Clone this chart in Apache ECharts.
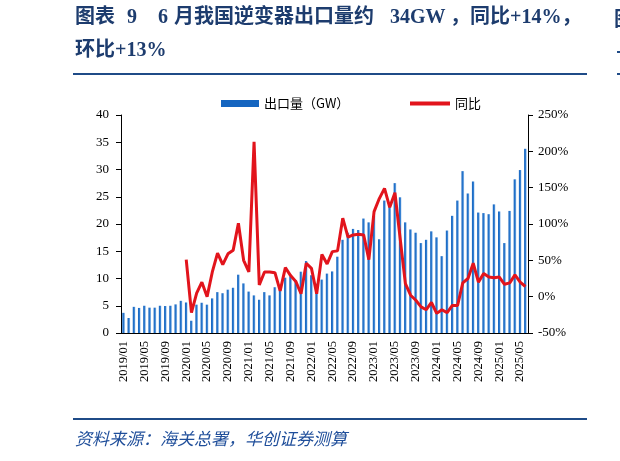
<!DOCTYPE html>
<html lang="zh">

<head>
    <meta charset="UTF-8">
    <title>逆变器出口量</title>
    <script src="https://cdn.jsdelivr.net/npm/echarts@6/dist/echarts.min.js"></script>
    <style>
        body,
        html {
            margin: 0;
            padding: 0;
            background: #fff;
        }

        #main {
            width: 620px;
            height: 461px;
        }
    </style>
</head>

<body>
    <div id="main"></div>
    <script>
        // 月份 2019/01 - 2025/06
        var months = [];
        for (var y = 2019; y <= 2025; y++) {
            for (var m = 1; m <= 12; m++) {
                if (y == 2025 && m > 6) break;
                months.push(y + '/' + (m < 10 ? '0' + m : m));
            }
        }

        // 出口量 (GW)
        var exportVol = [
            3.7, 2.75, 4.8, 4.6, 5.0, 4.65, 4.65, 5.0, 4.95, 5.0, 5.25, 5.9,
            5.6, 2.25, 5.2, 5.55, 5.2, 6.35, 7.5, 7.3, 7.95, 8.3, 10.7, 9.1,
            7.6, 6.9, 6.1, 7.5, 6.9, 8.4, 7.95, 10.15, 10.4, 9.7, 11.25, 13.2,
            10.6, 9.05, 9.8, 10.9, 11.3, 14.0, 17.1, 18.4, 19.1, 18.9, 21.0, 20.3,
            21.5, 17.2, 24.3, 23.5, 27.5, 24.9, 20.3, 19.0, 18.4, 16.5, 17.1, 18.65,
            17.55, 14.1, 18.8, 21.5, 24.3, 29.7, 25.6, 27.8, 22.1, 22.0, 21.8, 23.6,
            22.3, 16.5, 22.4, 28.2, 29.9, 33.8
        ];

        // 同比 (%)，2019 年无数据
        var yoy = [
            null, null, null, null, null, null, null, null, null, null, null, null,
            51, -22, 5, 20, 0, 34, 60, 44, 59, 64, 101, 50,
            34, 213, 16, 34, 34, 33, 8, 40, 29, 21, 4, 46,
            39, 4, 58, 45, 62, 63, 108, 82, 85, 86, 85, 51,
            117, 135, 149, 123, 143, 80, 18, 2, -5, -14, -18, -8,
            -23, -18, -22, -12, -12, 19, 25, 46, 20, 32, 27, 26,
            27, 17, 19, 30, 20, 14
        ];

        var leftTicks = { min: 0, max: 40, interval: 5 };
        var rightTicks = { min: -50, max: 250, interval: 50 };

        var serif = '"Liberation Serif", "Times New Roman", "Noto Sans CJK SC", serif';
        var cjk = '"Noto Sans CJK SC", sans-serif';
        var navy = '#1d3c6e';

        // 标题分段摆放，模仿原图较宽的字距
        function titlePart(text, x, y) {
            return {
                type: 'text', left: x, top: y,
                style: { text: text, font: 'bold 20px ' + serif, fill: navy }
            };
        }

        var myChart = echarts.init(document.getElementById('main'));
        var option = {
            animation: false,
            backgroundColor: '#fff',
            graphic: [
                titlePart('图表', 75, 8),
                titlePart('9', 127, 8),
                titlePart('6', 158, 8),
                titlePart('月我国逆变器出口量约', 174, 8),
                titlePart('34GW', 390, 8),
                titlePart('，同比', 450, 8),
                titlePart('+14%，', 510, 8),
                titlePart('环比+13%', 75, 41),
                {
                    type: 'rect', shape: { x: 73, y: 73, width: 514, height: 2 },
                    style: { fill: '#1f4b87' }
                },
                {
                    type: 'rect', shape: { x: 617, y: 73, width: 10, height: 2 },
                    style: { fill: '#1f4b87' }
                },
                {
                    type: 'rect', shape: { x: 617, y: 51, width: 10, height: 2 },
                    style: { fill: '#1f4b87' }
                },
                {
                    type: 'text', left: 614, top: 8,
                    style: { text: '图', font: 'bold 20px ' + cjk, fill: navy }
                },
                {
                    type: 'rect', shape: { x: 73, y: 418, width: 514, height: 2 },
                    style: { fill: '#1f4b87' }
                },
                {
                    type: 'text', left: 75, top: 430,
                    style: {
                        text: '资料来源：海关总署，华创证券测算',
                        font: 'italic 17px ' + cjk, fill: '#1f4e9a'
                    }
                }
            ],
            legend: [
                {
                    data: [{ name: '出口量（GW）', icon: 'rect', itemStyle: { color: '#1565c0' } }],
                    left: 216, top: 92,
                    itemWidth: 38, itemHeight: 7, itemGap: 4,
                    textStyle: { fontFamily: cjk, fontSize: 13, color: '#000' }
                },
                {
                    data: [{ name: '同比', icon: 'rect' }],
                    left: 405, top: 92,
                    itemWidth: 40, itemHeight: 4,
                    textStyle: { fontFamily: cjk, fontSize: 13, color: '#000' }
                }
            ],
            grid: { left: 121, right: 92, top: 115, bottom: 128 },
            xAxis: {
                type: 'category',
                data: months,
                axisLine: { lineStyle: { color: '#000', width: 1 } },
                axisTick: { length: 4, lineStyle: { color: '#000' } },
                axisLabel: {
                    interval: 3, rotate: 90, margin: 8,
                    fontFamily: serif, fontSize: 12.5, color: '#000'
                }
            },
            yAxis: [
                {
                    type: 'value',
                    min: leftTicks.min, max: leftTicks.max, interval: leftTicks.interval,
                    axisLine: { show: true, lineStyle: { color: '#000' } },
                    axisTick: { show: true, length: 5, lineStyle: { color: '#000' } },
                    splitLine: { show: false },
                    axisLabel: { margin: 12, fontFamily: serif, fontSize: 13, color: '#000' }
                },
                {
                    type: 'value',
                    min: rightTicks.min, max: rightTicks.max, interval: rightTicks.interval,
                    axisLine: { show: true, lineStyle: { color: '#000' } },
                    axisTick: { show: true, length: 5, lineStyle: { color: '#000' } },
                    splitLine: { show: false },
                    axisLabel: {
                        margin: 10, fontFamily: serif, fontSize: 13, color: '#000',
                        formatter: '{value}%'
                    }
                }
            ],
            series: [
                {
                    name: '出口量（GW）',
                    type: 'bar',
                    data: exportVol,
                    barWidth: '50%',
                    itemStyle: {
                        color: new echarts.graphic.LinearGradient(0, 0, 1, 0, [
                            { offset: 0, color: '#1463be' },
                            { offset: 0.6, color: '#2d7bd0' },
                            { offset: 1, color: '#b3d0ef' }
                        ])
                    }
                },
                {
                    name: '同比',
                    type: 'line',
                    yAxisIndex: 1,
                    data: yoy,
                    symbol: 'none',
                    itemStyle: { color: '#e2141c' },
                    lineStyle: { color: '#e2141c', width: 3 },
                    z: 5
                }
            ]
        };
        myChart.setOption(option);
    </script>
</body>

</html>
